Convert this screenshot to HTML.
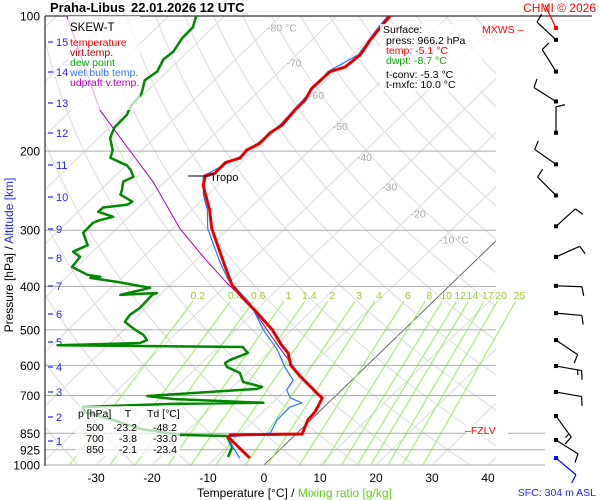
<!DOCTYPE html>
<html><head><meta charset="utf-8"><style>
html,body{margin:0;padding:0;background:#fff;}
svg{display:block;font-family:"Liberation Sans",Arial,sans-serif;}
</style></head><body>
<svg id="chart" width="600" height="500" viewBox="0 0 600 500">
<defs><clipPath id="plotclip"><rect x="45" y="16" width="451" height="449"/></clipPath>
<clipPath id="mixclip"><rect x="45" y="16" width="480" height="449"/></clipPath></defs>
<g id="grid"></g>
<g id="series"></g>
<g id="overlay"></g>
</svg>
<script>
const tempP=[965,866,857,853,794,762,727,709,695,667,634,599,563,541,500,459,425,397,358,324,297,270,250,238,227,224,212,207,199,192,182,175,162,154,145,133,130,122,113,107,103,100];
const tempT=[-3.8,-11.6,-11.6,1.1,-0.5,-0.7,-1.5,-2.0,-3.5,-6.4,-10.0,-13.7,-16.4,-19.0,-23.5,-29.2,-34.6,-39.0,-44.1,-48.9,-53.1,-56.9,-60.4,-62.6,-63.9,-62.7,-62.8,-61.0,-61.3,-60.2,-60.3,-59.6,-60.1,-60.1,-61.1,-60.9,-59.1,-58.6,-59.6,-60.0,-60.3,-60.5];
const dewP=[960,912,862,857,831,794,762,743,739,731,727,713,702,677,670,653,624,605,593,584,563,546,541,535,527,513,500,480,463,447,418,414,418,403,391,383,381,377,362,344,335,324,304,289,285,280,273,267,263,259,250,244,234,228,220,215,207,199,187,177,166,159,149,139,133,125,120,112,106,100];
const dewT=[-7.9,-9.0,-12.0,-20.5,-28.8,-35.3,-41.8,-43.0,-38.4,-27.7,-11.6,-28.4,-33.6,-15.3,-14.8,-19.1,-21.3,-24.7,-25.8,-25.5,-23.6,-25.6,-59.0,-44.7,-44.0,-45.6,-48.0,-51.3,-51.7,-51.2,-51.4,-50.9,-57.1,-53.1,-60.1,-65.6,-64.0,-66.7,-70.9,-71.3,-73.5,-72.1,-75.2,-75.3,-74.6,-72.8,-76.4,-76.3,-72.5,-72.2,-75.6,-76.2,-77.5,-76.6,-78.4,-79.9,-84.2,-85.2,-87.9,-89.1,-89.2,-90.1,-90.5,-92.4,-91.8,-92.9,-92.6,-93.5,-93.6,-95.1];
const wetP=[965,912,866,849,794,743,727,709,681,647,605,554,500,436,408,387,353,324,297,270,250,227,207,192,175,154,133,122,107,100];
const wetT=[-5.6,-8.9,-11.6,-4.8,-6.0,-6.1,-4.7,-7.7,-9.8,-10.5,-14.4,-18.9,-25.1,-32.4,-37.0,-40.6,-45.4,-49.6,-53.8,-57.3,-60.8,-64.3,-61.4,-60.6,-60.0,-60.5,-61.3,-59.0,-60.4,-60.9];
const parcelP=[699,656,541,440,393,344,297,235,189,162,100];
const parcelT=[-3.3,-7.8,-19.7,-32.1,-40.3,-49.3,-58.8,-71.9,-85.4,-94.9,-118.2];
const pressureTicks=[100,200,300,400,500,600,700,850,925,1000];
const tempTicks=[-30,-20,-10,0,10,20,30,40];
const altTicks=[1,2,3,4,5,6,7,8,9,10,11,12,13,14,15];
const altY=[441,417,392,367,342,314,286,258,229,197,165,133,103,72,42];
const mixRatios=[0.2,0.4,0.6,1,1.4,2,3,4,6,8,10,12,14,17,20,25];
const isoLabels=[-80,-70,-60,-50,-40,-30,-20,-10];
const isoLabelP=[106,127,150,176,206,240,275,315];
const windP=[113,133,155,182,214,251,294,344,399,459,527,602,688,778,880,965];
const windDir=[313,328,302,0,305,315,48,66,92,95,124,100,100,144,122,130];
const windSpd=[10,10,10,10,10,10,10,10,10,10,10,15,10,15,10,10];

const NS='http://www.w3.org/2000/svg';
function yP(p){return 465-195*Math.log(1000/p);}
function xT(T,p){return 264+5.6*T+1.035*(465-yP(p));}
function mk(parent,tag,attrs){const e=document.createElementNS(NS,tag);for(const k in attrs)e.setAttribute(k,attrs[k]);parent.appendChild(e);return e;}
const grid=document.getElementById('grid'),series=document.getElementById('series');
const gclip=mk(grid,'g',{'clip-path':'url(#plotclip)'});


for(let T=-140;T<=40;T+=10){
 const l=mk(gclip,'line',{x1:xT(T,1000),y1:yP(1000),x2:xT(T,100),y2:yP(100),stroke:T===0?'#666':'#ddd','stroke-width':1});
 
 
}
for(let th=200;th<=480;th+=10){
 let d='';for(let p=1000;p>=100;p-=10){const T=th*Math.pow(p/1000,0.286)-273.15;d+=(p===1000?'M':'L')+xT(T,p).toFixed(1)+','+yP(p).toFixed(1);}
 const a=mk(gclip,'path',{d:d,fill:'none',stroke:'#ddd','stroke-width':1});
 
 
}
const mclip=mk(grid,'g',{'clip-path':'url(#mixclip)'});
function tdOf(w,p){const e=w*p/(622+w);const g=Math.log(e/6.112);return 243.5*g/(17.67-g);}
mixRatios.forEach(w=>{
 const l=mk(mclip,'line',{x1:xT(tdOf(w,1000),1000),y1:yP(1000),x2:xT(tdOf(w,432),432),y2:yP(432),stroke:'#99ee66','stroke-width':1});
 
 
 const t=mk(grid,'text',{x:xT(tdOf(w,418),418),y:299,'font-size':10.5,fill:'#99cc33','text-anchor':'middle'});
 t.textContent=String(w);
 
 
});
isoLabels.forEach((T,i)=>{
 const p=isoLabelP[i];
 const t=mk(grid,'text',{x:xT(T,p)-2,y:yP(p)+4,'font-size':10.5,fill:'#aaa','text-anchor':'start'});
 t.textContent=(T===-80||T===-10)?T+' °C':String(T);
 
 
});
pressureTicks.forEach(p=>{
 const x2=p===100?592:(p>=850?545:496);
 const l=mk(grid,'line',{x1:45,y1:yP(p),x2:x2,y2:yP(p),stroke:p===100?'#000':'#aaa','stroke-width':1});
 
 
 const t=mk(grid,'text',{x:40,y:yP(p)+4.5,'font-size':12,fill:'#000','text-anchor':'end'});
 t.textContent=String(p);
 
 
});
const ax=mk(grid,'line',{x1:45,y1:16,x2:45,y2:466,stroke:'#000','stroke-width':1});


altTicks.forEach((a,i)=>{
 const tk=mk(grid,'line',{x1:48,y1:altY[i],x2:53,y2:altY[i],stroke:'#22f','stroke-width':1.2});
 
 
 const t=mk(grid,'text',{x:56,y:altY[i]+4,'font-size':11,fill:'#22f'});
 t.textContent=String(a);
 
 
});
tempTicks.forEach(T=>{
 const t=mk(grid,'text',{x:xT(T,1000),y:482,'font-size':12,fill:'#000','text-anchor':'middle'});
 t.textContent=String(T);
 
 
});
const sclip=mk(series,'g',{'clip-path':'url(#plotclip)'});
function line(P,T,color,w,name){
 const d=P.map((p,i)=>(i?'L':'M')+xT(T[i],p).toFixed(1)+','+yP(p).toFixed(1)).join('');
 const e=mk(sclip,'path',{d:d,fill:'none',stroke:color,'stroke-width':w,'stroke-linejoin':'round'});
 
 
}
line(parcelP,parcelT,'#aa00aa',1,'updraft-line');
line(dewP,dewT,'#008800',2.5,'dew-point-line');
line(wetP,wetT,'#2277ff',1.2,'wet-bulb-line');
line(tempP,tempT,'#ff0000',3,'temperature-line');
line(tempP,tempT,'#aa0000',0.8,'virtual-temp-line');
windP.forEach((p,i)=>{
 const g=mk(series,'g',{});
 
 
 const x0=556,y0=yP(p),r=windDir[i]*Math.PI/180,L=26;
 const ux=Math.sin(r),uy=-Math.cos(r);
 const col=i===windP.length-1?'#00f':'#000';
 const x1=x0+ux*L,y1=y0+uy*L;
 mk(g,'line',{x1:x0,y1:y0,x2:x1,y2:y1,stroke:col,'stroke-width':1.2});
 mk(g,'rect',{x:x0-2,y:y0-2,width:4,height:4,fill:col});
 let n=Math.floor(windSpd[i]/10),half=windSpd[i]%10>=5;
 for(let k=0;k<n;k++){const bx=x1-ux*4*k,by=y1-uy*4*k;mk(g,'line',{x1:bx,y1:by,x2:bx-uy*9+ux*2,y2:by+ux*9+uy*2,stroke:col,'stroke-width':1.2});}
 if(half){const bx=x1-ux*4*n,by=y1-uy*4*n;mk(g,'line',{x1:bx,y1:by,x2:bx-uy*5+ux*1,y2:by+ux*5+uy*1,stroke:col,'stroke-width':1.2});}
});
</script>
<script>
const ov2=document.getElementById('overlay');
ov2.innerHTML=`
<line x1="545" y1="5" x2="556" y2="28" stroke="#f00" stroke-width="1.2"/>
<rect x="554" y="26" width="4" height="4" fill="#f00"/>
<rect x="68" y="16" width="72" height="94" fill="#fff" fill-opacity="0.7"/>
<text x="70" y="31" font-size="11.5" fill="#000">SKEW-T</text>
<text x="70" y="46" font-size="10.5" fill="#f00">temperature</text>
<text x="70" y="56" font-size="10.5" fill="#a00">virt.temp.</text>
<text x="70" y="66" font-size="10.5" fill="#0a0">dew point</text>
<text x="70" y="76" font-size="10.5" fill="#37f">wet bulb temp.</text>
<text x="70" y="86" font-size="10.5" fill="#b0b">udpraft v.temp.</text>
<rect x="380" y="24" width="103" height="67" fill="#fff" fill-opacity="0.8"/>
<text x="383" y="33" font-size="10.5" fill="#000">Surface:</text>
<text x="386" y="44" font-size="10.5" fill="#000">press: 966.2 hPa</text>
<text x="386" y="54" font-size="10.5" fill="#f00">temp: -5.1 °C</text>
<text x="386" y="64" font-size="10.5" fill="#0a0">dwpt: -8.7 °C</text>
<text x="386" y="78" font-size="10.5" fill="#000">t-conv: -5.3 °C</text>
<text x="386" y="88" font-size="10.5" fill="#000">t-mxfc: 10.0 °C</text>
<rect x="75" y="406" width="105" height="50" fill="#fff" fill-opacity="0.7"/>
<text x="78" y="417" font-size="10.5" fill="#000">p [hPa]</text>
<text x="128" y="417" font-size="10.5" fill="#000" text-anchor="middle">T</text>
<text x="147" y="417" font-size="10.5" fill="#000">Td [°C]</text>
<text x="95" y="431" font-size="10.5" fill="#000" text-anchor="middle">500</text>
<text x="95" y="442" font-size="10.5" fill="#000" text-anchor="middle">700</text>
<text x="95" y="453" font-size="10.5" fill="#000" text-anchor="middle">850</text>
<text x="137" y="431" font-size="10.5" fill="#000" text-anchor="end">-23.2</text>
<text x="137" y="442" font-size="10.5" fill="#000" text-anchor="end">-3.8</text>
<text x="137" y="453" font-size="10.5" fill="#000" text-anchor="end">-2.1</text>
<text x="177" y="431" font-size="10.5" fill="#000" text-anchor="end">-48.2</text>
<text x="177" y="442" font-size="10.5" fill="#000" text-anchor="end">-33.0</text>
<text x="177" y="453" font-size="10.5" fill="#000" text-anchor="end">-23.4</text>
<line x1="188" y1="176" x2="210" y2="176" stroke="#000" stroke-width="1"/>
<text x="210" y="181" font-size="11" fill="#000">Tropo</text>
<text x="482" y="33" font-size="10.5" fill="#f00">MXWS –</text>
<rect x="466" y="424" width="42" height="12" fill="#fff"/>
<text x="465" y="434" font-size="10.5" fill="#f00">–FZLV</text>
<text x="50" y="12" font-size="13" font-weight="bold" fill="#000">Praha-Libus</text>
<text x="131" y="12" font-size="13" font-weight="bold" fill="#000">22.01.2026 12 UTC</text>
<text x="596" y="12" font-size="12" fill="#f00" text-anchor="end">CHMI © 2026</text>
<text x="596" y="496" font-size="10.5" fill="#22f" text-anchor="end">SFC: 304 m ASL</text>
<text x="197" y="497" font-size="12" fill="#000">Temperature [°C]  /  <tspan fill="#66cc22">Mixing ratio [g/kg]</tspan></text>
<text transform="translate(13,255) rotate(-90)" font-size="12" fill="#000" text-anchor="middle">Pressure [hPa]  /  <tspan fill="#22f">Altitude [km]</tspan></text>
`;
</script>
</body></html>
